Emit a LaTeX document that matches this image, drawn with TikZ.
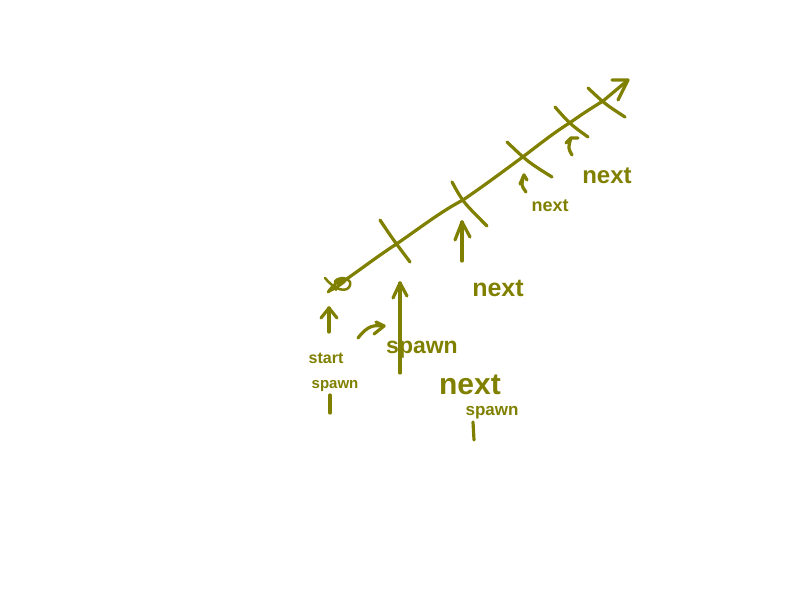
\documentclass[tikz,border=0pt]{standalone}
\usepackage{fontspec}
\setmainfont{Liberation Sans}
\definecolor{ink}{HTML}{808000}
\begin{document}
\begin{tikzpicture}[x=1pt,y=-1pt,
  pen/.style={draw=ink,line width=3.2pt,line cap=round,line join=round},
  lbl/.style={text=ink,inner sep=0pt,font=\bfseries\fontsize{#1}{#1}\selectfont},
  lbl/.default=18]
\useasboundingbox (0,0) rectangle (800,600);
% axis points
\coordinate (s) at (338,285);
\coordinate (t1) at (395,245);
\coordinate (t2) at (463,200);
\coordinate (t3) at (524,156);
\coordinate (t4) at (571,122);
\coordinate (t5) at (603,101);
\coordinate (e) at (628,80);
\draw[pen] (s) .. controls (360,270) and (375,258) .. (t1)
  .. controls (420,228) and (440,212) .. (t2)
  .. controls (485,185) and (505,170) .. (t3)
  .. controls (545,140) and (555,132) .. (t4)
  .. controls (585,112) and (595,106) .. (t5) -- (e);
\draw[pen] (612,80) -- (e) -- (618,100);
% ticks
\draw[pen] (380,220) .. controls (392,238) .. (410,262);
\draw[pen] (452,182) .. controls (463,202) .. (487,226);
\draw[pen] (507,142) .. controls (528,162) .. (552,177);
\draw[pen] (555,107) .. controls (570,124) .. (588,137);
\draw[pen] (588,88) .. controls (605,104) .. (625,117);
% start scribble
\draw[pen,line width=2.5pt] (325,278) .. controls (340,296) and (352,290) .. (350,282)
  .. controls (346,274) and (332,285) .. (328,292)
  .. controls (340,286) and (352,278) .. (342,278) .. controls (334,280) .. (336,290);
% arrows
\coordinate (a0t) at (329,308); \coordinate (a0b) at (329,332);
\draw[pen] (a0b) -- (a0t); \draw[pen] (321,318) -- (a0t) -- (337,318);
\coordinate (a1t) at (400,283); \coordinate (a1b) at (400,373);
\draw[pen] (a1b) -- (a1t); \draw[pen] (393,298) -- (a1t) -- (407,296);
\coordinate (a2t) at (462,222); \coordinate (a2b) at (462,261);
\draw[pen] (a2b) -- (a2t); \draw[pen] (455,240) -- (a2t) -- (470,237);
\coordinate (a3t) at (524,175); \coordinate (a3b) at (526,192);
\draw[pen] (a3b) .. controls (521,185) .. (a3t); \draw[pen] (520,184) -- (a3t) -- (527,180);
\coordinate (a4t) at (571,138); \coordinate (a4b) at (572,155);
\draw[pen] (a4b) .. controls (568,148) .. (a4t); \draw[pen] (566,143) -- (a4t) -- (578,138);
% curved arrow
\coordinate (c0) at (358,338); \coordinate (c1) at (384,326);
\draw[pen] (c0) .. controls (368,325) and (374,325) .. (c1);
\draw[pen] (376,322) -- (c1) -- (374,334);
% labels
\node[lbl=16] (ls) at (326,358) {start};
\node[lbl=15] (lsp) at (335,386) {spawn};
\draw[pen] (330,395) -- (330,413);
\node[lbl=23] (lsp2) at (422,350) {spawn};
\node[lbl=30] (lnx) at (470,385) {next};
\node[lbl=17] (lsp3) at (492,413) {spawn};
\draw[pen] (473,422) -- (474,440);
\node[lbl=25] (n2) at (498,288) {next};
\node[lbl=18] (n3) at (550,206) {next};
\node[lbl=24] (n4) at (607,176) {next};
\end{tikzpicture}
\end{document}
